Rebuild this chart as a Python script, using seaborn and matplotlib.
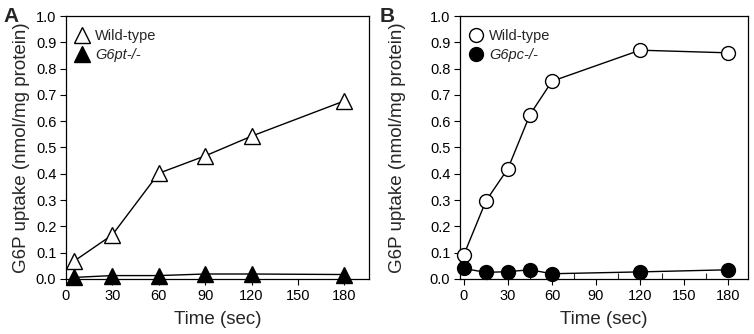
import matplotlib
matplotlib.use("Agg")
import matplotlib.pyplot as plt
from matplotlib.ticker import MultipleLocator
from matplotlib.lines import Line2D
import seaborn as sns
import pandas as pd

sns.set_style("ticks")
plt.rcParams['font.family'] = ['Liberation Sans', 'DejaVu Sans']

# Panel A data
time_a = [5, 30, 60, 90, 120, 180]
wt_a = [0.067, 0.168, 0.402, 0.468, 0.543, 0.677]
ko_a = [0.006, 0.013, 0.013, 0.019, 0.019, 0.017]

# Panel B data
time_b = [0, 15, 30, 45, 60, 120, 180]
wt_b = [0.093, 0.297, 0.42, 0.625, 0.752, 0.87, 0.86]
ko_b = [0.040, 0.025, 0.028, 0.035, 0.020, 0.027, 0.035]

ko_a_label = "G6pt-/-"
ko_b_label = "G6pc-/-"
wt_label = "Wild-type"
xticks = [0, 30, 60, 90, 120, 150, 180]

W, H = 754, 334
fig = plt.figure(figsize=(W / 100, H / 100), dpi=100)
axA = fig.add_axes([66 / W, 1 - 279 / H, (369 - 66) / W, (279 - 16) / H])
axB = fig.add_axes([460 / W, 1 - 279 / H, (748 - 460) / W, (279 - 16) / H])


def draw(ax, t, wt, ko, marker, ms, ko_label, xlim, minor, ylabelpad):
    sns.lineplot(x=t, y=wt, ax=ax, color="black", lw=1.0, marker=marker, ms=ms,
                 markerfacecolor="white", markeredgecolor="black", mew=1.0, zorder=3)
    sns.lineplot(x=t, y=ko, ax=ax, color="black", lw=1.0, marker=marker, ms=ms,
                 markerfacecolor="black", markeredgecolor="black", mew=1.0, zorder=3)
    for ln in ax.lines:
        ln.set_clip_on(False)
    ax.set_xlim(*xlim)
    ax.set_ylim(0, 1.0)
    ax.set_xticks(xticks)
    ax.yaxis.set_major_locator(MultipleLocator(0.1))
    ax.set_yticklabels([f"{v:.1f}" for v in ax.get_yticks()])
    if minor:
        ax.xaxis.set_minor_locator(MultipleLocator(15))
        ax.tick_params(axis="x", which="minor", direction="in", length=4, width=0.8)
    ax.tick_params(axis="both", which="major", direction="out", length=4, width=0.8,
                   labelsize=10.5, colors="black", pad=3)
    for s in ax.spines.values():
        s.set_linewidth(0.9)
        s.set_color("black")
    ax.set_xlabel("Time (sec)", fontsize=13.5, labelpad=6)
    ax.set_ylabel("G6P uptake (nmol/mg protein)", fontsize=13.5, labelpad=ylabelpad)
    handles = [
        Line2D([], [], ls="none", marker=marker, ms=ms, markerfacecolor="white",
               markeredgecolor="black", mew=1.0),
        Line2D([], [], ls="none", marker=marker, ms=ms, markerfacecolor="black",
               markeredgecolor="black", mew=1.0),
    ]
    leg = ax.legend(handles, [wt_label, ko_label], loc="upper left", frameon=False,
                    fontsize=10.5, handlelength=0.8, handletextpad=0.5,
                    borderaxespad=0.3, labelspacing=0.35, bbox_to_anchor=(0.0, 0.99))
    leg.get_texts()[1].set_style("italic")


draw(axA, time_a, wt_a, ko_a, "^", 11, ko_a_label, (0, 196), False, 4)
draw(axB, time_b, wt_b, ko_b, "o", 10, ko_b_label, (-2.7, 193.6), True, 17)

fig.text(3 / W, 1 - 16 / H, "A", fontsize=15, fontweight="bold", va="center", ha="left")
fig.text(380 / W, 1 - 16 / H, "B", fontsize=15, fontweight="bold", va="center", ha="left")

fig.savefig("out.png", dpi=100)
